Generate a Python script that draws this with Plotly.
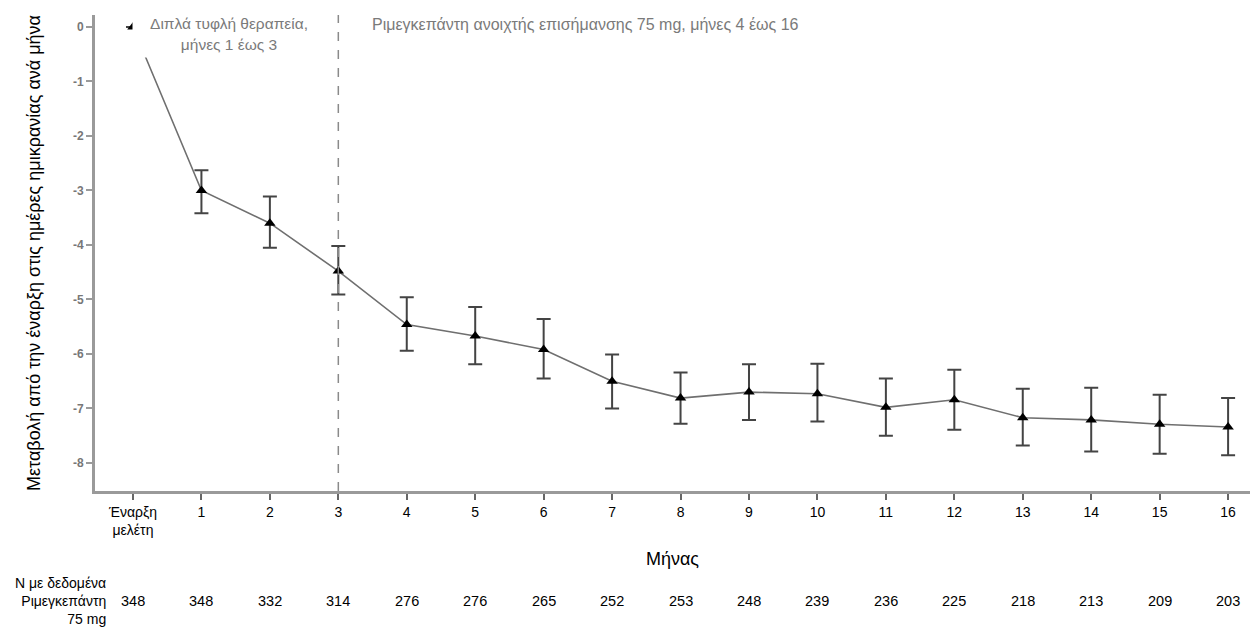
import plotly.graph_objects as go

# ---- data ----
months = list(range(0, 17))
tick_labels = ["Έναρξη<br>μελέτη"] + [str(m) for m in range(1, 17)]
mean_change = [0.0, -3.00, -3.60, -4.48, -5.46, -5.67, -5.92, -6.50, -6.81, -6.70,
               -6.73, -6.98, -6.84, -7.17, -7.21, -7.29, -7.34]
upper = [0.0, -2.63, -3.11, -4.02, -4.96, -5.14, -5.36, -6.01, -6.34, -6.19,
         -6.18, -6.45, -6.29, -6.64, -6.62, -6.75, -6.81]
lower = [0.0, -3.42, -4.05, -4.91, -5.94, -6.19, -6.45, -7.00, -7.28, -7.21,
         -7.24, -7.50, -7.39, -7.68, -7.79, -7.83, -7.86]
n_counts = [348, 348, 332, 314, 276, 276, 265, 252, 253, 248, 239, 236, 225, 218, 213, 209, 203]
y_ticks = [0, -1, -2, -3, -4, -5, -6, -7, -8]
y_tick_text = ["0", "-1", "-2", "-3", "-4", "-5", "-6", "-7", "-8"]
phase_boundary = 3

err_plus = [u - m for u, m in zip(upper, mean_change)]
err_minus = [m - l for m, l in zip(mean_change, lower)]
err_plus[0] = None
err_minus[0] = None

FONT = "Liberation Sans, Arial, sans-serif"

fig = go.Figure()
fig.add_trace(go.Scatter(
    x=months, y=mean_change, mode="lines+markers",
    line=dict(color="#6f6f6f", width=1.6),
    marker=dict(symbol="triangle-up", size=10, color="black"),
    error_y=dict(type="data", symmetric=False, array=err_plus, arrayminus=err_minus,
                 color="#444444", thickness=2, width=7),
    showlegend=False,
))

fig.add_vline(x=phase_boundary, line=dict(color="#8a8a8a", width=1.5, dash="dash"))

# phase annotations
fig.add_annotation(x=1.40, xref="x", y=1.0, yref="paper", yanchor="top",
                   text="Διπλά τυφλή θεραπεία,<br>μήνες 1 έως 3", showarrow=False,
                   font=dict(family=FONT, size=15.5, color="#7a7a7a"),
                   bgcolor="white", width=190, height=44, valign="middle", yshift=5)
fig.add_annotation(x=phase_boundary + 0.47, xref="x", y=1.0, yref="paper", xanchor="left",
                   yanchor="middle", yshift=-9,
                   text="Ριμεγκεπάντη ανοιχτής επισήμανσης 75 mg, μήνες 4 έως 16",
                   showarrow=False, font=dict(family=FONT, size=16, color="#7a7a7a"))

# N table
N_Y = -0.232
for m, n in zip(months, n_counts):
    fig.add_annotation(x=m, xref="x", y=N_Y, yref="paper", yanchor="middle", text=str(n),
                       showarrow=False, font=dict(family=FONT, size=14.5, color="black"))
fig.add_annotation(x=0.0113, xref="paper", xanchor="right", y=N_Y, yref="paper", yanchor="middle",
                   text="Ν με δεδομένα<br>Ριμεγκεπάντη<br>75 mg", showarrow=False, align="right",
                   font=dict(family=FONT, size=14, color="black"))

fig.update_layout(
    width=1253, height=630,
    margin=dict(l=95, r=3, t=15, b=139, autoexpand=False),
    plot_bgcolor="white", paper_bgcolor="white",
    font=dict(family=FONT),
    xaxis=dict(
        range=[-0.555, 16.32], tickmode="array", tickvals=months, ticktext=tick_labels,
        showgrid=False, zeroline=False, showline=True, linecolor="#9a9a9a", linewidth=3,
        ticks="outside", ticklen=6, tickwidth=2, tickcolor="#666666", automargin=False,
        tickfont=dict(family=FONT, size=14, color="black"),
        title=dict(text="Μήνας", font=dict(family=FONT, size=18, color="black"), standoff=16),
    ),
    yaxis=dict(
        range=[-8.515, 0.22], tickmode="array", tickvals=y_ticks, ticktext=y_tick_text,
        showgrid=False, zeroline=False, showline=True, linecolor="#9a9a9a", linewidth=3,
        ticks="outside", ticklen=6, tickwidth=2, tickcolor="#9a9a9a", automargin=False,
        tickfont=dict(family="Liberation Sans", size=12, color="#777777", weight="bold"),
        title=dict(text="Μεταβολή από την έναρξη στις ημέρες ημικρανίας ανά μήνα",
                   font=dict(family=FONT, size=18, color="black"), standoff=28),
    ),
)

fig.write_html("out.html", config={"displayModeBar": False},
               post_script="document.body.style.margin='0';")
